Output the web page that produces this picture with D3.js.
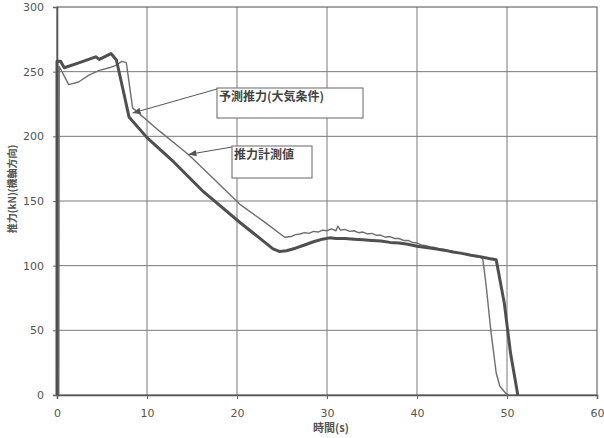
<!DOCTYPE html>
<html>
<head>
<meta charset="utf-8">
<script src="https://cdn.jsdelivr.net/npm/d3@7"></script>
<style>
  html, body { margin: 0; padding: 0; background: #fff; }
  svg { display: block; }
</style>
</head>
<body>
<svg id="chart" width="604" height="438"></svg>
<script>
// Axis ticks
const xTicks = [0, 10, 20, 30, 40, 50, 60];
const yTicks = [0, 50, 100, 150, 200, 250, 300];

// 予測推力(大気条件): time (s) and thrust (kN)
const predTime = [0, 0, 0.4, 0.8, 2.5, 4.3, 4.7, 6.0, 6.6, 7.5, 8.0, 10.0, 13.0, 16.3, 20.4, 24.0, 24.7,
  25.5, 26.5, 27.5, 28.5, 29.5, 30.3, 31, 32, 33, 34, 35, 36, 37, 38, 39, 40, 41, 42, 43, 44, 45, 46, 47, 48, 48.8,
  49.7, 50.4, 51.2];
const predThrust = [0, 258, 258, 253, 257, 261.5, 259.5, 264, 259, 231, 215, 199, 180, 157, 133, 113, 111,
  111.5, 113.5, 116, 118.5, 120.5, 121.5, 121, 121, 120.5, 120, 119.5, 119, 118, 117.5, 116.5, 115, 114, 113, 112, 110.5, 109.5, 108, 107, 105.5, 104.5,
  71, 32, 0];

// 推力計測値: time (s) and thrust (kN)
const measTime = [0.2, 0.25, 1.3, 2.4, 3.6, 4.7, 5.8, 6.6, 7.2, 7.7, 8.4, 11.4, 14.6, 17.0, 20.4, 23.0, 25.3,
  26, 26.5, 27, 27.5, 28, 28.5, 29, 29.5, 30, 30.5, 31, 31.2, 31.5, 32, 32.5, 33, 33.5, 34, 34.5, 35, 35.5, 36, 36.5,
  37, 37.5, 38, 38.5, 39, 39.5, 40, 40.5, 41, 41.5, 42, 42.5, 43, 43.5, 44, 44.5, 45, 45.5, 46, 46.5, 47, 47.3,
  47.5, 47.7, 48.2, 48.8, 49.2, 49.9, 50.2];
const measThrust = [0, 254, 240, 242, 247.5, 251, 253, 255, 258, 257, 222, 204, 186, 170, 147, 134, 122,
  122.5, 124, 124.5, 125.5, 125, 126.5, 126, 127.5, 127, 128.5, 127, 130.5, 127.5, 128, 126.5, 127, 125.5, 126, 124.5, 125, 123.5, 123.5, 122,
  122.5, 121, 121, 119.5, 119.5, 118, 117.5, 116, 115.5, 114.5, 114, 113, 112.5, 111.5, 111, 110, 109.5, 108.5, 108, 107, 106.5, 105.5,
  95, 83.5, 50, 17, 7, 1, 0];

// Callout labels: text, the point the arrow reaches (s, kN)
const labels = ["予測推力(大気条件)", "推力計測値"];
const labelTargetTime = [8.4, 14.6];
const labelTargetThrust = [218, 186];

const svg = d3.select("#chart");
const plotLeft = 57, plotRight = 597, plotTop = 7, plotBottom = 395;

const x = d3.scaleLinear().domain([0, 60]).range([plotLeft, plotRight]);
const y = d3.scaleLinear().domain([0, 300]).range([plotBottom, plotTop]);

const gridColor = "#7a7a7a";
const textColor = "#555";

// Grid
svg.append("g").selectAll("line")
  .data(xTicks.filter(d => d > 0 && d < 60))
  .join("line")
  .attr("x1", d => x(d)).attr("x2", d => x(d))
  .attr("y1", y(300)).attr("y2", y(0))
  .attr("stroke", gridColor).attr("stroke-width", 1);
svg.append("g").selectAll("line")
  .data(yTicks.filter(d => d > 0 && d < 300))
  .join("line")
  .attr("x1", x(0)).attr("x2", x(60))
  .attr("y1", d => y(d)).attr("y2", d => y(d))
  .attr("stroke", gridColor).attr("stroke-width", 1);

// Frame
svg.append("rect")
  .attr("x", x(0)).attr("y", y(300))
  .attr("width", x(60) - x(0)).attr("height", y(0) - y(300))
  .attr("fill", "none").attr("stroke", "#6a6a6a").attr("stroke-width", 1.2);

// Axes
const font = "'DejaVu Sans', sans-serif";
const yAxis = svg.append("g")
  .attr("transform", `translate(${x(0)},0)`)
  .call(d3.axisLeft(y).tickValues(yTicks).tickSize(4).tickPadding(9));
const xAxis = svg.append("g")
  .attr("transform", `translate(0,${y(0)})`)
  .call(d3.axisBottom(x).tickValues(xTicks).tickSize(4).tickPadding(10));
[yAxis, xAxis].forEach(g => {
  g.select(".domain").attr("stroke", "#555").attr("stroke-width", 1.6);
  g.selectAll(".tick line").attr("stroke", "#666");
  g.selectAll(".tick text").attr("fill", textColor)
    .style("font-family", font).style("font-size", "11px");
});

// Axis titles
svg.append("text")
  .attr("transform", `translate(16,189) rotate(-90)`)
  .attr("text-anchor", "middle")
  .attr("fill", textColor)
  .style("font-family", "'Noto Sans CJK JP', sans-serif")
  .style("font-size", "10px").style("font-weight", "bold")
  .text("推力(kN)(機軸方向)");
svg.append("text")
  .attr("x", 331).attr("y", 432)
  .attr("text-anchor", "middle")
  .attr("fill", textColor)
  .style("font-family", "'Noto Sans CJK JP', sans-serif")
  .style("font-size", "11px").style("font-weight", "bold")
  .text("時間(s)");

// Series
const line = d3.line().x(d => x(d[0])).y(d => y(d[1]));
const pred = predTime.map((t, i) => [t, predThrust[i]]);
const meas = measTime.map((t, i) => [t, measThrust[i]]);

svg.append("path").datum(meas)
  .attr("d", line)
  .attr("fill", "none").attr("stroke", "#6e6e6e")
  .attr("stroke-width", 1.4).attr("stroke-linejoin", "round");
svg.append("path").datum(pred)
  .attr("d", line)
  .attr("fill", "none").attr("stroke", "#4f4f4f")
  .attr("stroke-width", 3).attr("stroke-linejoin", "round");

// Callouts
svg.append("defs").append("marker")
  .attr("id", "arrowhead")
  .attr("viewBox", "0 0 10 10")
  .attr("refX", 10).attr("refY", 5)
  .attr("markerWidth", 8).attr("markerHeight", 8)
  .attr("markerUnits", "userSpaceOnUse")
  .attr("orient", "auto")
  .append("path").attr("d", "M0,1 L10,5 L0,9 Z").attr("fill", "#555");

const boxes = [
  { bx: 217, by: 88, bw: 146, bh: 30 },
  { bx: 232, by: 146, bw: 80, bh: 32 }
];
labels.forEach((txt, i) => {
  const b = boxes[i];
  svg.append("line")
    .attr("x1", b.bx).attr("y1", b.by + 1)
    .attr("x2", x(labelTargetTime[i])).attr("y2", y(labelTargetThrust[i]))
    .attr("stroke", "#555").attr("stroke-width", 1)
    .attr("marker-end", "url(#arrowhead)");
  svg.append("rect")
    .attr("x", b.bx).attr("y", b.by)
    .attr("width", b.bw).attr("height", b.bh)
    .attr("fill", "#fff").attr("stroke", "#666").attr("stroke-width", 1);
  svg.append("text")
    .attr("x", b.bx + 2).attr("y", b.by + 13)
    .attr("fill", "#444")
    .style("font-family", "'Noto Sans CJK JP', sans-serif")
    .style("font-size", "12px").style("font-weight", "bold")
    .text(txt);
});
</script>
</body>
</html>
